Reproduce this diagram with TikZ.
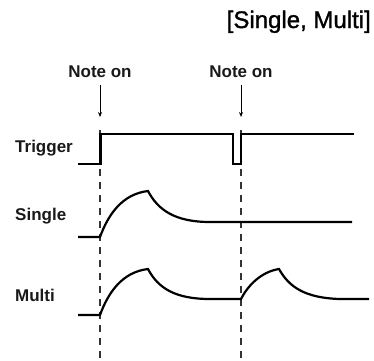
\documentclass[tikz,border=0pt]{standalone}
\usepackage{fontspec}
\setmainfont{Liberation Sans}
\newfontfamily\ttlfont[FakeBold=1.2]{Liberation Sans}
\usetikzlibrary{arrows.meta}
\tikzset{
  lbl/.style={font=\fontsize{17}{20}\selectfont\bfseries, inner sep=0pt, anchor=base west, text=black!90},
  notelbl/.style={font=\fontsize{17}{20}\selectfont\bfseries, inner sep=0pt, anchor=base, text=black!90},
  ttl/.style={font=\ttlfont\fontsize{24}{28}\selectfont, inner sep=0pt, anchor=base east},
  wave/.style={line width=2.2pt, line join=miter},
  guide/.style={line width=1.3pt, black!80, dash pattern=on 7pt off 6pt},
  noteArrow/.style={line width=1pt, -{Stealth[length=5pt,width=4pt]}}
}
\begin{document}
\begin{tikzpicture}[x=1pt,y=-1pt]
\useasboundingbox (0,0) rectangle (374,360);
% title
\node[ttl] (title) at (371,28) {[Single, Multi]};
% note on labels and arrows
\node[notelbl] (n1) at (100,77.5) {Note on};
\node[notelbl] (n2) at (241,77.5) {Note on};
\coordinate (a1) at (100,117);
\coordinate (a2) at (241,117);
\draw[noteArrow] (n1.south |- 0,85) -- (a1);
\draw[noteArrow] (n2.south |- 0,85) -- (a2);
% row labels
\node[lbl] (trig) at (15,152.5) {Trigger};
\node[lbl] (sing) at (15,220) {Single};
\node[lbl] (mult) at (15,301.5) {Multi};
% dashed guides
\coordinate (g1t) at (100,130);
\coordinate (g1b) at (100,360);
\coordinate (g2t) at (241,130);
\coordinate (g2b) at (241,360);
\draw[guide] (g1t) -- (g1b);
\draw[guide] (g2t) -- (g2b);
% trigger
\draw[wave] (78,164) -- (100.5,164) -- (100.5,134) -- (233,134) -- (233,164) -- (241,164) -- (241,134) -- (354,134);
% single
\draw[wave] (78,237) -- (100,237)
  .. controls (108,215) and (122,194) .. (148,191)
  .. controls (158,210) and (175,222) .. (210,222) -- (352,222);
% multi
\draw[wave] (78,315) -- (100,315)
  .. controls (108,293) and (122,272) .. (148,269)
  .. controls (158,288) and (175,299) .. (210,299) -- (241,299)
  .. controls (247,287) and (260,272) .. (279,269)
  .. controls (289,287) and (305,298) .. (340,299) -- (369,299);
\end{tikzpicture}
\end{document}
